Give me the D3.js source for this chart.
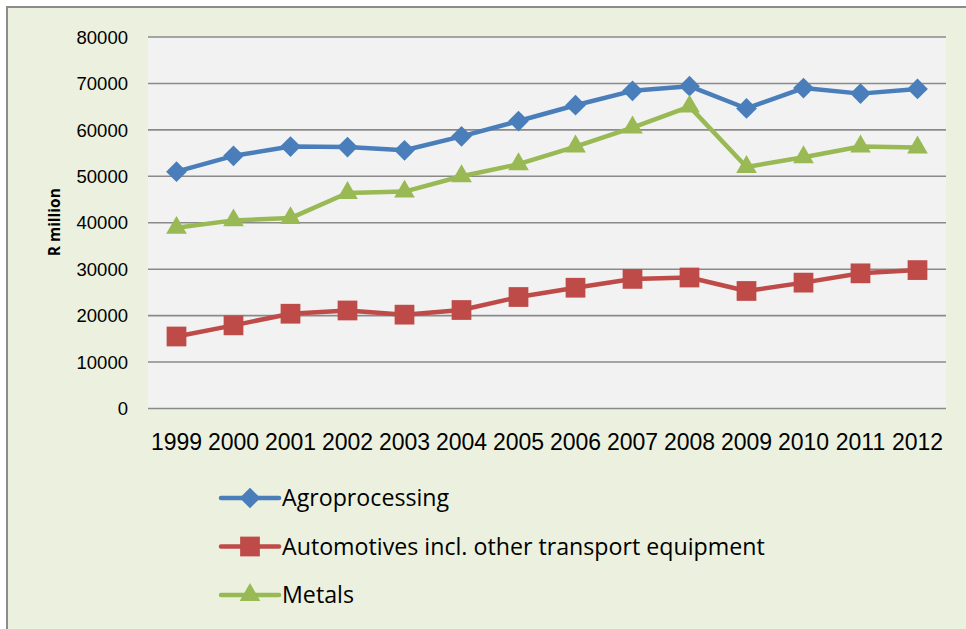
<!DOCTYPE html>
<html>
<head>
<meta charset="utf-8">
<script src="https://cdn.jsdelivr.net/npm/d3@7"></script>
<style>
  html, body { margin: 0; padding: 0; background: #fff; }
  svg { display: block; font-family: "Open Sans", sans-serif; }
  .grid line { stroke: #8a8a8a; stroke-width: 1.6; }
  .grid text { font-size: 18.5px; fill: #000; }
  .xaxis text { font-size: 23px; fill: #000; }
  .legend text { font-size: 23.2px; fill: #000; }
</style>
</head>
<body>
<svg id="chart" width="966" height="629"></svg>
<script>
//

const years = ['1999', '2000', '2001', '2002', '2003', '2004', '2005',
  '2006', '2007', '2008', '2009', '2010', '2011', '2012']

const agroprocessing = [50900, 54300, 56300, 56200, 55500, 58500, 61800,
  65200, 68300, 69300, 64500, 68900, 67700, 68700]
const automotives = [15400, 17800, 20300, 21000, 20100, 21100, 23900,
  25900, 27800, 28100, 25200, 27000, 29000, 29700]
const metals = [38800, 40400, 40900, 46300, 46600, 49900, 52500,
  56300, 60400, 64900, 51900, 54000, 56300, 56100]

const yTicks = [0, 10000, 20000, 30000, 40000, 50000, 60000, 70000, 80000]
const seriesNames = ['Agroprocessing', 'Automotives incl. other transport equipment', 'Metals']

//

const width = 966
const height = 629
const plot = {left: 148, right: 946, top: 36.5, bottom: 408}

const series = [
  {name: seriesNames[0], values: agroprocessing, color: '#4a7ebb', shape: 'diamond'},
  {name: seriesNames[1], values: automotives, color: '#be4b48', shape: 'square'},
  {name: seriesNames[2], values: metals, color: '#98b954', shape: 'triangle'}
]

const markerPath = {
  diamond: d3.symbol(d3.symbolSquare, 215)(),
  square: d3.symbol(d3.symbolSquare, 390)(),
  triangle: d3.symbol(d3.symbolTriangle, 185)()
}
const markerRotate = {diamond: 45, square: 0, triangle: 0}

//

const svg = d3.select('#chart')

svg.append('rect')
  .attr('x', 7)
  .attr('y', 7)
  .attr('width', width + 20)
  .attr('height', height + 20)
  .attr('fill', '#ebf1de')
  .attr('stroke', '#8c8c8c')
  .attr('stroke-width', 2)

svg.append('rect')
  .attr('x', plot.left)
  .attr('y', plot.top)
  .attr('width', plot.right - plot.left)
  .attr('height', plot.bottom - plot.top)
  .attr('fill', '#f2f2f2')

//

const x = d3.scaleBand()
  .domain(years)
  .range([plot.left, plot.right])

const y = d3.scaleLinear()
  .domain([0, 80000])
  .range([plot.bottom, plot.top])

const yAxis = d3.axisLeft(y)
  .tickValues(yTicks)
  .tickFormat(d3.format('d'))
  .tickSizeInner(-(plot.right - plot.left))
  .tickSizeOuter(0)
  .tickPadding(20)

svg.append('g')
  .attr('class', 'grid')
  .attr('transform', `translate(${plot.left}, 0)`)
  .call(yAxis)
  .call((g) => g.select('.domain').remove())
  .call((g) => g.selectAll('text').attr('dy', '0.36em'))

const xAxis = d3.axisBottom(x)
  .tickSize(0)
  .tickPadding(0)

svg.append('g')
  .attr('class', 'xaxis')
  .attr('transform', `translate(0, ${plot.bottom})`)
  .call(xAxis)
  .call((g) => g.select('.domain').remove())
  .call((g) => g.selectAll('text').attr('y', 42).attr('dy', null))

svg.append('text')
  .attr('transform', `translate(60, ${(plot.top + plot.bottom) / 2}) rotate(-90)`)
  .attr('text-anchor', 'middle')
  .style('font-size', '15.5px')
  .style('font-weight', 700)
  .text('R million')

//

const line = d3.line()
  .x((d, i) => x(years[i]) + x.bandwidth() / 2)
  .y((d) => y(d))

const group = svg.selectAll('.series')
  .data(series)
  .enter()
  .append('g')
  .attr('class', 'series')

group.append('path')
  .attr('d', (d) => line(d.values))
  .attr('fill', 'none')
  .attr('stroke', (d) => d.color)
  .attr('stroke-width', 4.5)
  .attr('stroke-linejoin', 'round')
  .attr('stroke-linecap', 'round')

group.selectAll('.marker')
  .data((d) => d.values.map((v, i) => ({v, i, s: d})))
  .enter()
  .append('path')
  .attr('class', 'marker')
  .attr('d', (d) => markerPath[d.s.shape])
  .attr('transform', (d) =>
    `translate(${x(years[d.i]) + x.bandwidth() / 2}, ${y(d.v)}) rotate(${markerRotate[d.s.shape]})`
  )
  .attr('fill', (d) => d.s.color)

//

const legend = svg.append('g')
  .attr('class', 'legend')
  .attr('transform', 'translate(221, 498)')

const legendItem = legend.selectAll('.item')
  .data(series)
  .enter()
  .append('g')
  .attr('class', 'item')
  .attr('transform', (d, i) => `translate(0, ${i * 48.5})`)

legendItem.append('line')
  .attr('x1', 0)
  .attr('x2', 58)
  .attr('stroke', (d) => d.color)
  .attr('stroke-width', 4.5)
  .attr('stroke-linecap', 'round')

legendItem.append('path')
  .attr('d', (d) => markerPath[d.shape])
  .attr('transform', (d) => `translate(29, 0) rotate(${markerRotate[d.shape]})`)
  .attr('fill', (d) => d.color)

legendItem.append('text')
  .attr('x', 61)
  .attr('dy', '0.36em')
  .text((d) => d.name)
</script>
</body>
</html>
